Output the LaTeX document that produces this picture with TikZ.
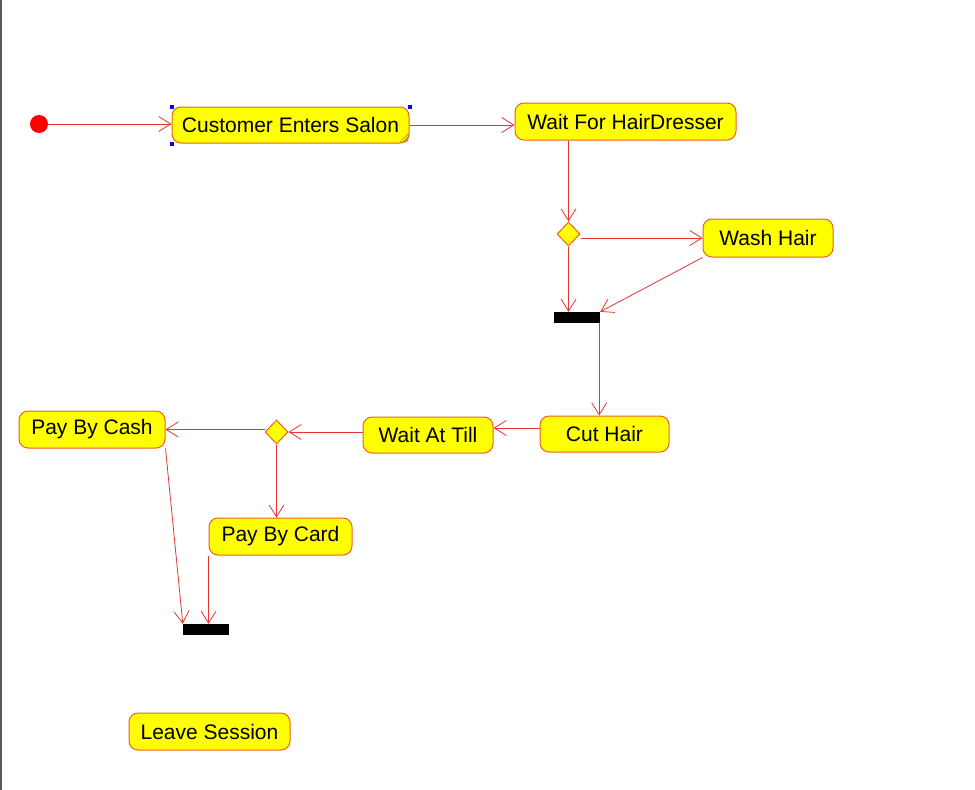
\documentclass[tikz,border=0pt]{standalone}
\usepackage{fontspec}
\setmainfont{Liberation Sans}
\usetikzlibrary{arrows.meta,shapes.geometric}
\definecolor{flowred}{RGB}{228,52,52}
\definecolor{boxline}{RGB}{236,96,36}
\definecolor{boxfill}{RGB}{255,255,0}

\begin{document}
\begin{tikzpicture}[
    x=1pt, y=-1pt,
    every node/.style={font=\fontsize{21}{24}\selectfont},
    activity/.style={draw=boxline, fill=boxfill, rounded corners=9pt, minimum height=36pt, inner sep=0pt, line width=1pt},
    decision/.style={diamond, draw=boxline, fill=boxfill, minimum width=23pt, minimum height=24pt, inner sep=0pt, line width=1pt},
    bar/.style={fill=black, minimum width=46pt, minimum height=11pt, inner sep=0pt},
    start/.style={circle, fill=red, minimum size=18pt, inner sep=0pt},
    handle/.style={fill=blue, minimum size=4pt, inner sep=0pt},
    flow/.style={-{Straight Barb[length=12pt, width=15pt]}, draw=flowred, line width=0.8pt}
]
\useasboundingbox (0,0) rectangle (975,790);
\draw[gray!70!black, line width=1.5pt] (0.75,0) -- (0.75,790);

% activities
\node[start] (init) at (39,124) {};
\node[activity, minimum width=237pt] (enter) at (290.5,125) {Customer Enters Salon};
\node[activity, minimum width=221pt, minimum height=37pt] (waitdresser) at (625.5,121.5) {Wait For HairDresser};
\node[decision] (choosewash) at (568.5,234) {};
\node[activity, minimum width=130pt, minimum height=38pt] (wash) at (768,238) {Wash Hair};
\node[bar] (joinwash) at (577,317.5) {};
\node[activity, minimum width=129pt] (cut) at (604.5,434) {Cut Hair};
\node[activity, minimum width=130pt] (till) at (428,435) {Wait At Till};
\node[decision] (choosepay) at (276.5,432) {};
\node[activity, minimum width=146pt, minimum height=37pt] (cash) at (92,429.5) {Pay By Cash};
\node[activity, minimum width=143pt, minimum height=37pt] (card) at (280.5,536.5) {Pay By Card};
\node[bar] (joinpay) at (206,629.5) {};
\node[activity, minimum width=161pt, minimum height=37pt] (leave) at (209.5,731.5) {Leave Session};

% selection marks
\node[handle] (h1) at (enter.north west) {};
\node[handle] (h2) at (enter.north east) {};
\node[handle] (h3) at (enter.south west) {};
\foreach \d in {4,7,10}
    \draw[olive, line width=0.6pt] ([xshift=-\d pt, yshift=1pt]enter.south east) -- ([xshift=-1pt, yshift=\d pt]enter.south east);

% transitions
\draw[flow] (init) -- (enter.west |- init);
\draw[flow] (enter.east) -- (enter.east -| waitdresser.west);
\draw[flow] (waitdresser.south -| choosewash.north) -- (choosewash.north);
\draw[flow] (choosewash.east |- wash.west) -- (wash.west);
\draw[flow] (choosewash.south) -- (choosewash.south |- joinwash.north);
\draw[flow] (wash.south west) -- (joinwash.north east);
\draw[flow] ([xshift=-1pt]joinwash.south east) -- ([xshift=-1pt]joinwash.south east |- cut.north);
\draw[flow] ([yshift=6pt]cut.west) -- ([yshift=6pt]cut.west -| till.east);
\draw[flow] (till.west |- choosepay.east) -- (choosepay.east);
\draw[flow] (choosepay.west |- cash.east) -- (cash.east);
\draw[flow] (choosepay.south) -- (choosepay.south |- card.north);
\draw[flow] (cash.south east) -- (joinpay.north west);
\draw[flow] (card.south west) -- (card.south west |- joinpay.north);
\end{tikzpicture}
\end{document}
